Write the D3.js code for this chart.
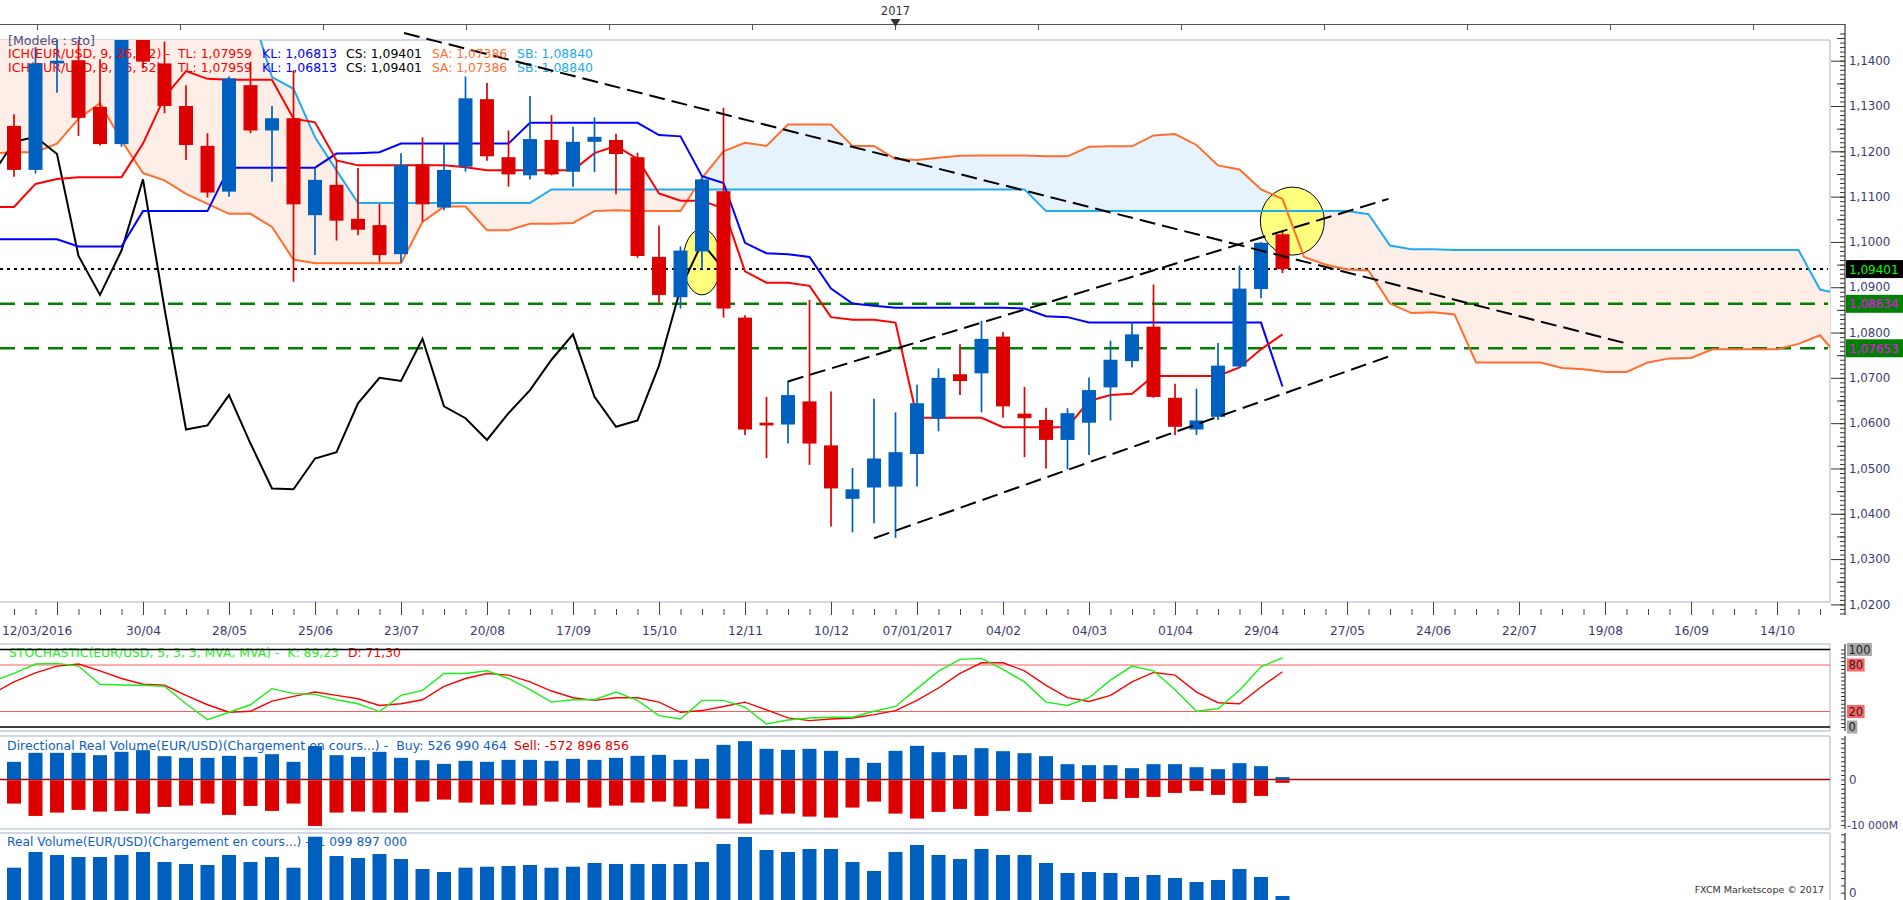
<!DOCTYPE html>
<html>
<head>
<meta charset="utf-8">
<title>EUR/USD weekly - Ichimoku</title>
<script src="https://cdn.jsdelivr.net/npm/d3@7/dist/d3.min.js"></script>
<style>
  html, body { margin:0; padding:0; background:#ffffff; overflow:hidden; }
  svg { display:block; font-family:"DejaVu Sans", Verdana, sans-serif; }
  text { white-space: pre; }
</style>
</head>
<body>
<svg id="chart" width="1903" height="900"></svg>
<script>
// ================= DATA =================
const candleStart = "2016-03-19";   // first weekly candle
const lineStart   = "2016-03-12";   // first point of the indicator lines

const OPEN = [1.1256,1.1159,1.1394,1.1401,1.1298,1.1216,1.1450,1.1394,1.1300,1.1212,
  1.1111,1.1346,1.1246,1.1273,1.1059,1.1126,1.1051,1.1037,1.0973,1.1171,
  1.1076,1.1166,1.1315,1.1187,1.1147,1.1225,1.1155,1.1221,1.1225,1.1187,
  1.0967,1.0878,1.0979,1.1112,1.0833,1.0601,1.0597,1.0648,1.0551,1.0433,
  1.0458,1.0460,1.0532,1.0610,1.0708,1.0710,1.0791,1.0621,1.0607,1.0563,
  1.0601,1.0679,1.0737,1.0813,1.0656,1.0586,1.0614,1.0725,1.0896,1.1017];
const HIGH = [1.1282,1.1430,1.1465,1.1464,1.1403,1.1460,1.1616,1.1442,1.1346,1.1240,
  1.1365,1.1398,1.1300,1.1379,1.1163,1.1180,1.1163,1.1084,1.1196,1.1231,
  1.1218,1.1365,1.1351,1.1246,1.1322,1.1280,1.1254,1.1275,1.1239,1.1197,
  1.1036,1.0990,1.1142,1.1296,1.0838,1.0658,1.0693,1.0872,1.0670,1.0501,
  1.0654,1.0624,1.0685,1.0721,1.0774,1.0826,1.0801,1.0680,1.0634,1.0633,
  1.0701,1.0782,1.0822,1.0906,1.0687,1.0676,1.0777,1.0948,1.1000,1.1022];
const LOW = [1.1144,1.1151,1.1329,1.1234,1.1213,1.1210,1.1383,1.1284,1.1181,1.1098,
  1.1100,1.1240,1.1133,1.0912,1.0971,1.1003,1.1015,1.0956,1.0954,1.1045,
  1.1070,1.1155,1.1179,1.1122,1.1138,1.1147,1.1122,1.1154,1.1105,1.0965,
  1.0866,1.0853,1.0940,1.0833,1.0574,1.0523,1.0555,1.0508,1.0372,1.0359,
  1.0379,1.0347,1.0460,1.0582,1.0662,1.0624,1.0612,1.0525,1.0500,1.0498,
  1.0530,1.0606,1.0723,1.0656,1.0574,1.0574,1.0607,1.0722,1.0876,1.0931];
const CLOSE = [1.1159,1.1394,1.1400,1.1274,1.1216,1.1450,1.1398,1.1300,1.1214,1.1109,
  1.1361,1.1246,1.1273,1.1083,1.1137,1.1047,1.1027,1.0971,1.1170,1.1083,
  1.1159,1.1317,1.1189,1.1149,1.1227,1.1149,1.1221,1.1232,1.1194,1.0969,
  1.0883,1.0981,1.1138,1.0853,1.0586,1.0595,1.0662,1.0555,1.0456,1.0454,
  1.0522,1.0536,1.0644,1.0700,1.0693,1.0786,1.0637,1.0611,1.0563,1.0622,
  1.0673,1.0740,1.0796,1.0658,1.0592,1.0606,1.0727,1.0897,1.0998,1.09401];

// Ichimoku lines (weekly, from lineStart)
const TENKAN = [1.1077,1.1077,1.1128,1.1139,1.1143,1.1143,1.1143,1.1217,1.1320,1.1377,
  1.1360,1.1358,1.1358,1.1358,1.1272,1.1264,1.1180,1.1169,1.1169,1.1169,
  1.1169,1.1169,1.1165,1.1158,1.1158,1.1158,1.1158,1.1158,1.1196,1.1212,
  1.1183,1.1107,1.1091,1.1091,1.1074,1.0935,1.0910,1.0910,1.0903,1.0834,
  1.0828,1.0828,1.0822,1.0612,1.0612,1.0612,1.0612,1.0591,1.0591,1.0591,
  1.0591,1.0649,1.0662,1.0665,1.0704,1.0704,1.0704,1.0704,1.0723,1.0763,1.0796];
const KIJUN = [1.1006,1.1006,1.1006,1.1006,1.0990,1.0990,1.0990,1.1068,1.1068,1.1068,
  1.1068,1.1164,1.1164,1.1164,1.1164,1.1164,1.1195,1.1196,1.1198,1.1217,
  1.1217,1.1217,1.1217,1.1217,1.1217,1.1263,1.1263,1.1263,1.1263,1.1263,
  1.1263,1.1236,1.1233,1.1145,1.1130,1.0998,1.0975,1.0973,1.0967,1.0897,
  1.0864,1.0859,1.0855,1.0855,1.0855,1.0855,1.0855,1.0855,1.0853,1.0836,
  1.0834,1.0822,1.0822,1.0822,1.0822,1.0822,1.0822,1.0822,1.0822,1.0822,1.0681];
const SENKOU_A = [1.1195,1.1198,1.1198,1.1217,1.1272,1.1306,1.1224,1.1152,1.1136,1.1106,
  1.1084,1.1062,1.1062,1.1033,1.0961,1.0953,1.0953,1.0953,1.0953,1.0953,
  1.1044,1.1078,1.1078,1.1026,1.1026,1.1040,1.1040,1.1042,1.1068,1.1070,
  1.1068,1.1068,1.1068,1.1141,1.1200,1.1219,1.1212,1.1259,1.1259,1.1259,
  1.1212,1.1212,1.1183,1.1181,1.1186,1.1190,1.1191,1.1191,1.1191,1.1189,
  1.1189,1.1210,1.1211,1.1211,1.1235,1.1238,1.1214,1.1169,1.1160,1.1116,
  1.1095,1.0967,1.0950,1.0939,1.0937,1.0864,1.0843,1.0845,1.0840,1.0734,
  1.0734,1.0734,1.0734,1.0722,1.0719,1.0713,1.0713,1.0734,1.0743,1.0744,
  1.0763,1.0763,1.0763,1.0763,1.0775,1.0794,1.0739];
const SENKOU_B = [1.1516,1.1516,1.1516,1.1516,1.1516,1.1516,1.1516,1.1516,1.1516,1.1516,
  1.1516,1.1516,1.1516,1.1364,1.1338,1.1231,1.1158,1.1086,1.1086,1.1086,
  1.1086,1.1086,1.1086,1.1086,1.1086,1.1086,1.1116,1.1116,1.1116,1.1116,
  1.1116,1.1116,1.1116,1.1116,1.1116,1.1116,1.1116,1.1116,1.1116,1.1116,
  1.1116,1.1116,1.1116,1.1116,1.1116,1.1116,1.1116,1.1116,1.1116,1.1068,
  1.1068,1.1068,1.1068,1.1068,1.1068,1.1068,1.1068,1.1068,1.1068,1.1068,
  1.1068,1.1068,1.1068,1.1068,1.1061,1.0992,1.0984,1.0984,1.0982,1.0982,
  1.0982,1.0982,1.0982,1.0982,1.0982,1.0982,1.0982,1.0982,1.0982,1.0982,
  1.0982,1.0982,1.0982,1.0982,1.0982,1.0895,1.0884];
const CHIKOU_SHIFT_WEEKS = 26;

// Stochastic (from lineStart)
const STOCH_K = [59,69.1,81.2,82.1,78.6,55.1,54.2,53.8,52.5,30.0,9.5,
  19.0,28.7,49.5,43.0,42.1,35.2,30.0,19.9,40.8,47.3,
  69.1,69.1,72.5,62.6,48.2,32.1,35.2,35.2,45.1,34.3,
  14.7,10.4,34.3,34.3,25.6,3.9,9.1,11.7,12.6,12.6,
  20.3,26.5,49.5,72.0,87.3,88.6,74.3,58.2,32.1,27.8,
  37.8,60.4,78.6,72.5,48.2,20.3,23.5,47.3,77.7,89.23];
const STOCH_D = [43,58.2,69.9,78.6,81.2,72.5,62.6,55.1,53.8,40.8,28.7,
  19.0,20.3,33.4,39.5,45.1,40.8,36.5,27.8,30.0,35.2,
  52.5,62.6,69.1,66.9,58.2,46.4,37.8,34.3,37.8,37.8,
  32.1,19.0,21.2,26.5,32.1,22.2,11.7,8.2,10.4,11.7,
  16.0,21.2,34.3,50.3,69.1,82.9,82.9,72.5,53.8,37.8,
  33.0,40.8,58.2,70.4,66.9,45.1,31.3,30.0,51.6,71.30];
const STOCH_LEVELS = [80, 20];

// Volumes (millions), one per candle
const VOL_BUY = [3883,5860,5860,5860,5348,6081,6447,5128,4762,4762,
  5201,4982,5568,3883,7326,5348,4982,6081,4762,4249,
  3443,4103,3883,4322,4322,4103,4542,4322,4762,5201,
  5421,4322,4542,7619,8425,6740,6520,6740,6300,4762,
  3663,6300,7399,6007,5348,6886,6227,5787,5128,3370,
  3150,3150,2491,3370,3370,2711,2271,3590,2930,527];
const VOL_SELL = [-5128,-7839,-7106,-6520,-6886,-6740,-7326,-5861,-5568,-5128,
  -7619,-5641,-6740,-5128,-10037,-7106,-6886,-7106,-7106,-4689,
  -4249,-4908,-5348,-5348,-5568,-4689,-4908,-6007,-5568,-4908,
  -4689,-5787,-6227,-8425,-9524,-7546,-7326,-7985,-8205,-6007,
  -4689,-7326,-8425,-6960,-6300,-7839,-6740,-6960,-5201,-4322,
  -4762,-4103,-3883,-3663,-2784,-2344,-3223,-4982,-3443,-573];
const VOL_REAL = [8850,13150,12330,11780,11780,12330,13150,10410,9860,9590,
  12330,10410,11780,8850,17340,12060,11510,12600,11230,8490,
  7670,8850,9120,9320,9590,8850,9120,10140,9860,9860,
  9860,9860,10410,15340,17260,13700,13150,13970,13970,10410,
  7950,13150,15070,12330,11230,13970,12330,12330,10140,7400,
  7670,7400,6300,6850,6030,4930,5480,8490,6300,1100];

// Horizontal levels and drawings
const LAST_CLOSE_LEVEL = 1.09401;
const GREEN_LEVELS = [1.08634, 1.07653];
const TREND_DATES  = [["2016-07-24","2017-08-25"],["2016-11-26","2017-06-09T12:00Z"],["2016-12-24","2017-06-09T12:00Z"]];
const TREND_PRICES = [[1.14611,1.07778],[1.0692,1.1095],[1.0346,1.0747]];
const MARK_DATES  = ["2016-10-29","2017-05-09T05:00Z"];
const MARK_PRICES = [1.0956, 1.1046];

// Axis labels / legends
const PRICE_TICKS = [1.02,1.03,1.04,1.05,1.06,1.07,1.08,1.09,1.10,1.11,1.12,1.13,1.14];
const FIRST_DATE_LABEL = "12/03/2016";
const YEAR_LABEL = "2017";
const LEGEND_ICH = ["ICH(EUR/USD, 9, 26, 52) -","TL: 1,07959","KL: 1,06813","CS: 1,09401","SA: 1,07386","SB: 1,08840"];
const LEGEND_STOCH = ["STOCHASTIC(EUR/USD, 5, 3, 3, MVA, MVA) -  K: 89,23","D: 71,30"];
const LEGEND_DIR = ["Directional Real Volume(EUR/USD)(Chargement en cours...) -  Buy: 526 990 464","Sell: -572 896 856"];
const LEGEND_REAL = "Real Volume(EUR/USD)(Chargement en cours...) -  1 099 897 000";
const MODEL_LABEL = "[Modele : sto]";
const FOOTER = "FXCM Marketscope \u00A9 2017";

// ================= LAYOUT / STYLE =================
const svg = d3.select("#chart");
const PLOT_R = 1830, AXIS_X = 1845;
const MAIN_T = 40, MAIN_B = 602;
const ST_T = 644, ST_B = 731, DV_T = 736, DV_B = 829, RV_T = 833, RV_B = 900;
const BLUE = "#0060c0", RED = "#dd0000";
const FRAME = "#c3cdd9", AXIS_TXT = "#3a3a70", TICK = "#444";
const C_TENKAN = "#ff0000", C_KIJUN = "#0000ff", C_SA = "#ff6e2e", C_SB = "#22aaee";
const CLOUD_PINK = "#fdeee8", CLOUD_BLUE = "#e6f3fc";

const WEEK = 7 * 864e5;
const t0 = new Date(candleStart);
const x = d3.scaleUtc()
  .domain([new Date(+t0 - 0.6512 * WEEK), new Date(+t0 + 84.465 * WEEK)])
  .range([0, PLOT_R]);
const y  = d3.scaleLinear().domain([1.02, 1.14]).range([604.4, 60.7]);
const ys = d3.scaleLinear().domain([0, 100]).range([727, 649.5]);
const yd = d3.scaleLinear().domain([-10000, 0]).range([825, 779.5]);
const yr = d3.scaleLinear().domain([0, 18000]).range([900, 834.3]);

const weekDates = (start, n) => d3.range(n).map(k => d3.utcDay.offset(new Date(start), 7 * k));
const cDates = weekDates(candleStart, OPEN.length);
const lDates = weekDates(lineStart, TENKAN.length);
const sDates = weekDates(lineStart, SENKOU_A.length);

const loc = d3.formatLocale({decimal: ",", thousands: " ", grouping: [3], currency: ["", ""]});
const f4 = loc.format(".4f"), f5 = loc.format(".5f");

svg.append("rect").attr("width", 1903).attr("height", 900).attr("fill", "#fff");

// ---------- defs / clips ----------
const defs = svg.append("defs");
function clipRect(id, x0, y0, x1, y1) {
  defs.append("clipPath").attr("id", id).append("rect")
    .attr("x", x0).attr("y", y0).attr("width", x1 - x0).attr("height", y1 - y0);
}
clipRect("cMain", 0, MAIN_T, PLOT_R, MAIN_B);
clipRect("cStoch", 0, ST_T, PLOT_R, ST_B);
clipRect("cDir", 0, DV_T, PLOT_R, DV_B);
clipRect("cReal", 0, RV_T, PLOT_R, RV_B);

const areaAboveSA = d3.area().x((d, k) => x(sDates[k])).y0(-50).y1(d => y(d));
const areaBelowSA = d3.area().x((d, k) => x(sDates[k])).y0(d => y(d)).y1(1000);
defs.append("clipPath").attr("id", "cAboveSA").append("path").attr("d", areaAboveSA(SENKOU_A));
defs.append("clipPath").attr("id", "cBelowSA").append("path").attr("d", areaBelowSA(SENKOU_A));

// ---------- top ruler ----------
const rulerG = svg.append("g");
rulerG.append("line").attr("x1", 0).attr("x2", AXIS_X).attr("y1", 24.5).attr("y2", 24.5)
  .attr("stroke", "#555").attr("stroke-width", 1);
const yearX = x(new Date("2016-12-31"));
d3.range(-7, 8).map(k => yearX + 143 * k).filter(v => v > 0 && v < PLOT_R).forEach(v => {
  rulerG.append("line").attr("x1", v).attr("x2", v).attr("y1", 24.5).attr("y2", 30).attr("stroke", "#555");
});
rulerG.append("text").attr("x", yearX).attr("y", 15).attr("text-anchor", "middle")
  .attr("font-size", 11.5).attr("fill", "#333").text(YEAR_LABEL);
rulerG.append("path").attr("d", `M${yearX - 5},19L${yearX + 5},19L${yearX},27Z`).attr("fill", "#333");

// ---------- frames ----------
function frame(t, b) {
  const g = svg.append("g").attr("stroke", FRAME).attr("stroke-width", 1.5).attr("fill", "none");
  g.append("line").attr("x1", 0).attr("x2", PLOT_R).attr("y1", t).attr("y2", t);
  g.append("line").attr("x1", 0).attr("x2", PLOT_R).attr("y1", b).attr("y2", b);
  g.append("line").attr("x1", PLOT_R).attr("x2", PLOT_R).attr("y1", t).attr("y2", b);
}
frame(MAIN_T, MAIN_B); frame(ST_T, ST_B); frame(DV_T, DV_B); frame(RV_T, RV_B + 5);

// ================= MAIN PANEL =================
const mainG = svg.append("g").attr("clip-path", "url(#cMain)");

const areaBelowSB = d3.area().x((d, k) => x(sDates[k])).y0(d => y(d)).y1(1000);
const areaAboveSB = d3.area().x((d, k) => x(sDates[k])).y0(-50).y1(d => y(d));
mainG.append("path").attr("d", areaBelowSB(SENKOU_B)).attr("fill", CLOUD_PINK).attr("clip-path", "url(#cAboveSA)");
mainG.append("path").attr("d", areaAboveSB(SENKOU_B)).attr("fill", CLOUD_BLUE).attr("clip-path", "url(#cBelowSA)");

const markR = [[19, 33], [32, 34]];
MARK_DATES.forEach((d, k) => {
  mainG.append("ellipse")
    .attr("cx", x(new Date(d))).attr("cy", y(MARK_PRICES[k]))
    .attr("rx", markR[k][0]).attr("ry", markR[k][1])
    .attr("fill", "#ffff70").attr("fill-opacity", 0.9)
    .attr("stroke", "#000").attr("stroke-width", 1);
});

mainG.append("line").attr("x1", 0).attr("x2", PLOT_R - 2)
  .attr("y1", y(LAST_CLOSE_LEVEL)).attr("y2", y(LAST_CLOSE_LEVEL))
  .attr("stroke", "#000").attr("stroke-width", 2).attr("stroke-dasharray", "3,4");
GREEN_LEVELS.forEach(v => {
  mainG.append("line").attr("x1", 0).attr("x2", PLOT_R - 2).attr("y1", y(v)).attr("y2", y(v))
    .attr("stroke", "#008000").attr("stroke-width", 2.5).attr("stroke-dasharray", "15,9");
});

const lineS = d3.line().x((d, k) => x(sDates[k])).y(d => y(d));
const lineL = d3.line().x((d, k) => x(lDates[k])).y(d => y(d));
mainG.append("path").attr("d", lineS(SENKOU_B)).attr("fill", "none").attr("stroke", C_SB).attr("stroke-width", 2);
mainG.append("path").attr("d", lineS(SENKOU_A)).attr("fill", "none").attr("stroke", C_SA).attr("stroke-width", 2);

const chikouIdx = d3.range(CHIKOU_SHIFT_WEEKS - 1, CLOSE.length);
const chikouLine = d3.line()
  .x(k => x(d3.utcDay.offset(cDates[k], -7 * CHIKOU_SHIFT_WEEKS)))
  .y(k => y(CLOSE[k]));
mainG.append("path").attr("d", chikouLine(chikouIdx)).attr("fill", "none").attr("stroke", "#000").attr("stroke-width", 2);

mainG.append("path").attr("d", lineL(KIJUN)).attr("fill", "none").attr("stroke", C_KIJUN).attr("stroke-width", 2);
mainG.append("path").attr("d", lineL(TENKAN)).attr("fill", "none").attr("stroke", C_TENKAN).attr("stroke-width", 2);

const ichX = [8, 178, 262, 346, 432, 517];
const ichW = [162, 74, 75, 76, 75, 76];
const ichC = [C_TENKAN, C_TENKAN, C_KIJUN, "#000", C_SA, C_SB];
function ichLegend(g, baseline) {
  LEGEND_ICH.forEach((t, k) => {
    g.append("text").attr("x", ichX[k]).attr("y", baseline).attr("font-size", 12.5)
      .attr("fill", ichC[k]).attr("textLength", ichW[k]).attr("lengthAdjust", "spacingAndGlyphs").text(t);
  });
}
ichLegend(mainG, 71.5);

const candles = mainG.append("g").selectAll("g").data(cDates).join("g");
candles.append("line")
  .attr("x1", d => x(d)).attr("x2", d => x(d))
  .attr("y1", (d, k) => y(HIGH[k])).attr("y2", (d, k) => y(LOW[k]))
  .attr("stroke", (d, k) => CLOSE[k] >= OPEN[k] ? BLUE : RED).attr("stroke-width", 1.7);
candles.append("rect")
  .attr("x", d => x(d) - 7).attr("width", 14)
  .attr("y", (d, k) => y(Math.max(OPEN[k], CLOSE[k])))
  .attr("height", (d, k) => Math.max(1.5, Math.abs(y(OPEN[k]) - y(CLOSE[k]))))
  .attr("fill", (d, k) => CLOSE[k] >= OPEN[k] ? BLUE : RED);

const trendG = svg.append("g");
TREND_DATES.forEach((pair, k) => {
  trendG.append("line")
    .attr("x1", x(new Date(pair[0]))).attr("y1", y(TREND_PRICES[k][0]))
    .attr("x2", x(new Date(pair[1]))).attr("y2", y(TREND_PRICES[k][1]))
    .attr("stroke", "#000").attr("stroke-width", 2).attr("stroke-dasharray", "16,7");
});

svg.append("text").attr("x", 8).attr("y", 44.5).attr("font-size", 12.5).attr("fill", "#4d4d7e")
  .attr("textLength", 87).attr("lengthAdjust", "spacingAndGlyphs").text(MODEL_LABEL);
ichLegend(svg.append("g"), 58);

// ---------- bottom time axis ----------
const allWeeks = d3.utcSaturday.range(x.domain()[0], x.domain()[1]);
const wkIndex = d => Math.round((d - t0) / WEEK);
const majorWeeks = allWeeks.filter(d => ((wkIndex(d) % 4) + 4) % 4 === 2);
svg.append("g").attr("transform", "translate(0,615)")
  .call(d3.axisBottom(x).tickValues(allWeeks).tickSize(-6).tickFormat(""))
  .call(g => g.select(".domain").remove())
  .call(g => g.selectAll("line").attr("stroke", TICK));
const firstLabelEnd = 78;
svg.append("g").attr("transform", "translate(0,615)")
  .call(d3.axisBottom(x).tickValues(majorWeeks).tickSize(-13).tickPadding(11)
    .tickFormat(d => x(d) < firstLabelEnd ? "" :
      (d.getUTCMonth() === 0 && d.getUTCDate() <= 28 ? d3.utcFormat("%d/%m/%Y")(d) : d3.utcFormat("%d/%m")(d))))
  .call(g => g.select(".domain").remove())
  .call(g => g.selectAll("line").attr("stroke", TICK))
  .call(g => g.selectAll("text").attr("font-size", 12.2).attr("fill", AXIS_TXT)
    .attr("font-family", "DejaVu Sans, Verdana, sans-serif"));
svg.append("text").attr("x", 2).attr("y", 635).attr("font-size", 12.2).attr("fill", AXIS_TXT).text(FIRST_DATE_LABEL);

// ---------- right price axis ----------
svg.append("line").attr("x1", AXIS_X).attr("x2", AXIS_X).attr("y1", 24).attr("y2", 615)
  .attr("stroke", "#333").attr("stroke-width", 1.2);
const minorP = d3.range(1017, 1147).map(v => v / 1000).filter(v => y(v) >= 26 && y(v) <= 614);
const midP = d3.range(1015, 1150, 10).map(v => v / 1000).filter(v => y(v) >= 26 && y(v) <= 614);
const pAxis = (vals, size) => svg.append("g").attr("transform", `translate(${AXIS_X},0)`)
  .call(d3.axisLeft(y).tickValues(vals).tickSize(size).tickFormat(""))
  .call(g => g.select(".domain").remove())
  .call(g => g.selectAll("line").attr("stroke", "#333"));
pAxis(minorP, 5); pAxis(midP, 8); pAxis(PRICE_TICKS, 14);
PRICE_TICKS.forEach(v => {
  svg.append("text").attr("x", 1849).attr("y", y(v)).attr("dy", "0.36em")
    .attr("font-size", 11.8).attr("fill", AXIS_TXT).text(f4(v));
});
function priceBox(v, bg, fg) {
  svg.append("rect").attr("x", 1846).attr("y", y(v) - 9).attr("width", 57).attr("height", 18).attr("fill", bg);
  svg.append("text").attr("x", 1849).attr("y", y(v)).attr("dy", "0.37em")
    .attr("font-size", 12).attr("fill", fg).text(f5(v));
}
priceBox(LAST_CLOSE_LEVEL, "#000", "#00ff00");
GREEN_LEVELS.forEach(v => priceBox(v, "#008000", "#ff00ff"));

// ================= STOCHASTIC =================
const stG = svg.append("g").attr("clip-path", "url(#cStoch)");
stG.append("text").attr("x", 9).attr("y", 657).attr("font-size", 12.5).attr("fill", "#22ee22")
  .attr("textLength", 330).attr("lengthAdjust", "spacingAndGlyphs").text(LEGEND_STOCH[0]);
stG.append("text").attr("x", 348).attr("y", 657).attr("font-size", 12.5).attr("fill", "#ff0000")
  .attr("textLength", 53).attr("lengthAdjust", "spacingAndGlyphs").text(LEGEND_STOCH[1]);
[0, 100].forEach(v => stG.append("line").attr("x1", 0).attr("x2", PLOT_R).attr("y1", ys(v)).attr("y2", ys(v))
  .attr("stroke", "#000").attr("stroke-width", 1.6));
STOCH_LEVELS.forEach(v => stG.append("line").attr("x1", 0).attr("x2", PLOT_R).attr("y1", ys(v)).attr("y2", ys(v))
  .attr("stroke", "#ff5a5a").attr("stroke-width", 1));
const stLine = d3.line().x((d, k) => x(lDates[k])).y(d => ys(d));
stG.append("path").attr("d", stLine(STOCH_D)).attr("fill", "none").attr("stroke", "#ff0000").attr("stroke-width", 1.4);
stG.append("path").attr("d", stLine(STOCH_K)).attr("fill", "none").attr("stroke", "#19f019").attr("stroke-width", 1.4);

svg.append("line").attr("x1", AXIS_X).attr("x2", AXIS_X).attr("y1", ST_T).attr("y2", ST_B).attr("stroke", "#333").attr("stroke-width", 1.2);
svg.append("g").attr("transform", `translate(${AXIS_X},0)`)
  .call(d3.axisLeft(ys).tickValues(d3.range(0, 101, 5)).tickSize(4).tickFormat(""))
  .call(g => g.select(".domain").remove()).call(g => g.selectAll("line").attr("stroke", "#333"));
[[100, "#a8a8a8"], [80, "#ff6464"], [20, "#ff6464"], [0, "#a8a8a8"]].forEach(([v, bg]) => {
  const s = String(v);
  svg.append("rect").attr("x", 1847).attr("y", ys(v) - 6.5).attr("width", s.length * 7.3 + 3).attr("height", 13).attr("fill", bg);
  svg.append("text").attr("x", 1848.5).attr("y", ys(v)).attr("dy", "0.36em").attr("font-size", 11.5)
    .attr("fill", "#222").text(s);
});

// ================= DIRECTIONAL VOLUME =================
const dvG = svg.append("g").attr("clip-path", "url(#cDir)");
dvG.append("text").attr("x", 7).attr("y", 750).attr("font-size", 12.5).attr("fill", "#1060c0")
  .attr("textLength", 500).attr("lengthAdjust", "spacingAndGlyphs").text(LEGEND_DIR[0]);
dvG.append("text").attr("x", 514).attr("y", 750).attr("font-size", 12.5).attr("fill", "#e00000")
  .attr("textLength", 115).attr("lengthAdjust", "spacingAndGlyphs").text(LEGEND_DIR[1]);
dvG.append("line").attr("x1", 0).attr("x2", PLOT_R).attr("y1", yd(0)).attr("y2", yd(0))
  .attr("stroke", "#b00000").attr("stroke-width", 1.5);
dvG.append("g").selectAll("rect").data(cDates).join("rect")
  .attr("x", d => x(d) - 7).attr("width", 14)
  .attr("y", (d, k) => yd(VOL_BUY[k])).attr("height", (d, k) => yd(0) - yd(VOL_BUY[k]))
  .attr("fill", BLUE);
dvG.append("g").selectAll("rect").data(cDates).join("rect")
  .attr("x", d => x(d) - 7).attr("width", 14)
  .attr("y", yd(0) + 0.75).attr("height", (d, k) => yd(VOL_SELL[k]) - yd(0))
  .attr("fill", RED);
svg.append("line").attr("x1", AXIS_X).attr("x2", AXIS_X).attr("y1", DV_T).attr("y2", DV_B).attr("stroke", "#333").attr("stroke-width", 1.2);
svg.append("g").attr("transform", `translate(${AXIS_X},0)`)
  .call(d3.axisLeft(yd).tickValues(d3.range(-11000, 10001, 1000).filter(v => yd(v) > DV_T && yd(v) < DV_B)).tickSize(4).tickFormat(""))
  .call(g => g.select(".domain").remove()).call(g => g.selectAll("line").attr("stroke", "#333"));
svg.append("text").attr("x", 1849).attr("y", yd(0)).attr("dy", "0.36em").attr("font-size", 11.8).attr("fill", AXIS_TXT).text("0");
svg.append("text").attr("x", 1847).attr("y", yd(-10000)).attr("dy", "0.36em").attr("font-size", 10.8).attr("fill", AXIS_TXT).text("-10 000M");

// ================= REAL VOLUME =================
const rvG = svg.append("g").attr("clip-path", "url(#cReal)");
rvG.append("text").attr("x", 7).attr("y", 846).attr("font-size", 12.5).attr("fill", "#1060c0")
  .attr("textLength", 400).attr("lengthAdjust", "spacingAndGlyphs").text(LEGEND_REAL);
rvG.append("g").selectAll("rect").data(cDates).join("rect")
  .attr("x", d => x(d) - 7).attr("width", 14)
  .attr("y", (d, k) => yr(VOL_REAL[k])).attr("height", (d, k) => yr(0) - yr(VOL_REAL[k]))
  .attr("fill", BLUE);
svg.append("line").attr("x1", AXIS_X).attr("x2", AXIS_X).attr("y1", RV_T).attr("y2", RV_B).attr("stroke", "#333").attr("stroke-width", 1.2);
svg.append("g").attr("transform", `translate(${AXIS_X},0)`)
  .call(d3.axisLeft(yr).tickValues(d3.range(0, 18001, 2000)).tickSize(4).tickFormat(""))
  .call(g => g.select(".domain").remove()).call(g => g.selectAll("line").attr("stroke", "#333"));
svg.append("text").attr("x", 1849).attr("y", 897).attr("font-size", 11.8).attr("fill", AXIS_TXT).text("0");

// footer (right-aligned inside the plot)
svg.append("text").attr("x", 1824).attr("y", 893).attr("text-anchor", "end")
  .attr("font-size", 9.5).attr("fill", "#333").text(FOOTER);
</script>
</body>
</html>
